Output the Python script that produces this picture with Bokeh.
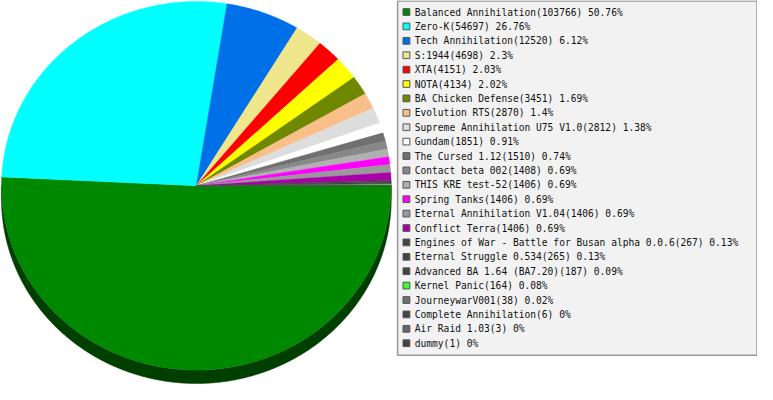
import numpy as np
from bokeh.plotting import figure
from bokeh.models import Range1d, ColumnDataSource
from bokeh.core.properties import value
from bokeh.embed import file_html
from bokeh.resources import INLINE

# ---- data ----
names = [
    "Balanced Annihilation", "Zero-K", "Tech Annihilation", "S:1944", "XTA", "NOTA",
    "BA Chicken Defense", "Evolution RTS", "Supreme Annihilation U75 V1.0", "Gundam",
    "The Cursed 1.12", "Contact beta 002", "THIS KRE test-52", "Spring Tanks",
    "Eternal Annihilation V1.04", "Conflict Terra",
    "Engines of War - Battle for Busan alpha 0.0.6", "Eternal Struggle 0.534",
    "Advanced BA 1.64 (BA7.20)", "Kernel Panic", "JourneywarV001",
    "Complete Annihilation", "Air Raid 1.03", "dummy",
]
counts = [103766, 54697, 12520, 4698, 4151, 4134, 3451, 2870, 2812, 1851,
          1510, 1408, 1406, 1406, 1406, 1406, 267, 265, 187, 164, 38, 6, 3, 1]
colors = [
    "#008800", "#00FFFF", "#0070E8", "#F0E68C", "#FF0000", "#FFFF00",
    "#708800", "#F8C088", "#DDDDDD", "#FFFFFF",
    "#707070", "#888888", "#B0B0B0", "#FF00FF",
    "#999999", "#AA00AA",
    "#444444", "#444444", "#444444", "#33FF33", "#707070",
    "#444444", "#666666", "#444444",
]

# ---- layout (reference pixel space) ----
CX, CY, RX, RY, DEPTH = 200.0, 193.0, 199.0, 192.0, 14.0
W, H = 757, 384

p = figure(width=W, height=H, output_backend="svg", toolbar_location=None,
           x_range=Range1d(0, 773), y_range=Range1d(400, 0),
           min_border=0, background_fill_color="white", border_fill_color="white")
p.axis.visible = False
p.grid.visible = False
p.outline_line_color = None

total = float(sum(counts))
edges = np.concatenate([[0.0], np.cumsum(counts)]) / total * 2 * np.pi


def darker(hexc, f=0.47):
    r, g, b = int(hexc[1:3], 16), int(hexc[3:5], 16), int(hexc[5:7], 16)
    return "#%02X%02X%02X" % (int(r * f), int(g * f), int(b * f))

# side (visible front half)
sx, sy, sc = [], [], []
for i in range(len(counts)):
    a0, a1 = max(edges[i], 0.0), min(edges[i + 1], np.pi)
    if a1 <= a0:
        continue
    n = max(3, int((a1 - a0) / (2 * np.pi) * 1440) + 3)
    t = np.linspace(a0, a1, n)
    xt = CX + RX * np.cos(t)
    yt = CY + RY * np.sin(t)
    sx.append(list(xt) + list(xt[::-1]))
    sy.append(list(yt) + list((yt + DEPTH)[::-1]))
    sc.append(darker(colors[i]))
p.patches(xs=sx, ys=sy, fill_color=sc, line_color=sc, line_width=0.5)

# top surface
px, py = [], []
for i in range(len(counts)):
    a0, a1 = edges[i], edges[i + 1]
    n = max(3, int((a1 - a0) / (2 * np.pi) * 1440) + 3)
    t = np.linspace(a0, a1, n)
    px.append([CX] + list(CX + RX * np.cos(t)))
    py.append([CY] + list(CY + RY * np.sin(t)))
p.patches(xs=px, ys=py, fill_color=colors, line_color=colors, line_width=0.4)

# legend box
p.quad(left=[405.5], right=[772.5], top=[0.5], bottom=[369.5],
       fill_color="#F2F2F2", line_color="#999999", line_width=1.5)

ROW0, ROWH = 12.0, 15.0
ys = [ROW0 + ROWH * i for i in range(len(names))]
labels = []
for nme, c in zip(names, counts):
    pct = round(c / total * 100, 2)
    labels.append(f"{nme}({c}) {pct:g}%")

p.rect(x=[414.5] * len(names), y=ys, width=7, height=7,
       fill_color=colors, line_color="#555555", line_width=1)
src = ColumnDataSource(dict(x=[423.0] * len(names), y=ys, text=labels))
p.text(x="x", y="y", text="text", source=src,
       text_font=value("DejaVu Sans Mono"), text_font_size="9.6px",
       text_baseline="middle", text_align="left", text_color="#111111")

open("out.html", "w").write(file_html(p, INLINE))
